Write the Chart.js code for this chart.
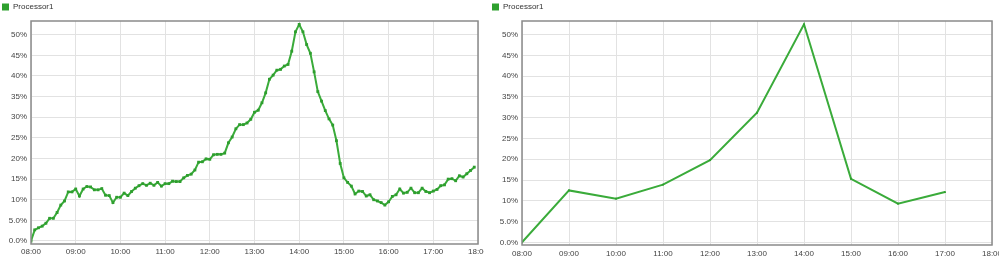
<!DOCTYPE html>
<html><head><meta charset="utf-8">
<script src="https://cdn.jsdelivr.net/npm/chart.js@4.4.1/dist/chart.umd.min.js"></script>
<style>
html,body{margin:0;padding:0;background:#fff;width:999px;height:261px;overflow:hidden;}
#l{position:absolute;left:0;top:0;width:484px;height:261px;}
#r{position:absolute;left:490px;top:0;width:509px;height:261px;}
</style></head><body>
<div id="l"><canvas id="cl"></canvas></div>
<div id="r"><canvas id="cr"></canvas></div>
<script>
const seriesName = 'Processor1';
const xTickLabels = ['08:00','09:00','10:00','11:00','12:00','13:00','14:00','15:00','16:00','17:00','18:00'];
const yTickLabels = ['0.0%','5.0%','10%','15%','20%','25%','30%','35%','40%','45%','50%'];

const detailTimes = [
'08:00','08:05','08:10','08:15','08:20','08:25','08:30','08:35','08:40','08:45','08:50','08:55',
'09:00','09:05','09:10','09:15','09:20','09:25','09:30','09:35','09:40','09:45','09:50','09:55',
'10:00','10:05','10:10','10:15','10:20','10:25','10:30','10:35','10:40','10:45','10:50','10:55',
'11:00','11:05','11:10','11:15','11:20','11:25','11:30','11:35','11:40','11:45','11:50','11:55',
'12:00','12:05','12:10','12:15','12:20','12:25','12:30','12:35','12:40','12:45','12:50','12:55',
'13:00','13:05','13:10','13:15','13:20','13:25','13:30','13:35','13:40','13:45','13:50','13:55',
'14:00','14:05','14:10','14:15','14:20','14:25','14:30','14:35','14:40','14:45','14:50','14:55',
'15:00','15:05','15:10','15:15','15:20','15:25','15:30','15:35','15:40','15:45','15:50','15:55',
'16:00','16:05','16:10','16:15','16:20','16:25','16:30','16:35','16:40','16:45','16:50','16:55',
'17:00','17:05','17:10','17:15','17:20','17:25','17:30','17:35','17:40','17:45','17:50','17:55'];
const detailValues = [
0, 2.7, 3.2, 3.6, 4.3, 5.5, 5.5, 6.9, 8.7, 9.7, 11.9, 11.9,
12.6, 10.9, 12.6, 13.2, 13.1, 12.4, 12.4, 12.7, 11.1, 11.0, 9.3, 10.6,
10.6, 11.6, 11.0, 12.0, 12.8, 13.4, 13.9, 13.5, 14.0, 13.5, 14.2, 13.3,
13.9, 13.9, 14.5, 14.4, 14.4, 15.3, 15.9, 16.2, 17.2, 19.1, 19.2, 19.9,
19.8, 20.9, 21.0, 21.0, 21.3, 23.8, 25.2, 27.2, 28.2, 28.2, 28.6, 29.5,
31.2, 31.7, 33.5, 35.9, 39.2, 40.2, 41.4, 41.6, 42.4, 42.8, 46.0, 50.7,
52.5, 50.7, 47.6, 45.5, 41.0, 36.2, 33.9, 31.6, 29.6, 28.1, 24.3, 18.8,
15.3, 14.2, 13.3, 11.4, 12.1, 12.0, 10.9, 11.2, 10.0, 9.7, 9.3, 8.7,
9.5, 10.8, 11.2, 12.6, 11.6, 11.8, 12.8, 11.7, 11.7, 12.8, 12.0, 11.7,
12.1, 12.5, 13.4, 13.6, 15.0, 15.1, 14.6, 15.8, 15.5, 16.3, 17.1, 17.9];

const hourlyTimes = ['08:00','09:00','10:00','11:00','12:00','13:00','14:00','15:00','16:00','17:00'];
const hourlyValues = [0, 12.5, 10.5, 13.9, 19.8, 31.2, 52.5, 15.3, 9.3, 12.1];

const toMin = t => { const [h, m] = t.split(':').map(Number); return h * 60 + m; };
const pts = (times, vals) => times.map((t, i) => ({x: toMin(t), y: vals[i]}));

const FONT = {family: '"Liberation Sans", Arial, sans-serif', size: 8};
const frame = {
  id: 'frame',
  afterDraw(chart) {
    const {ctx, chartArea: a} = chart;
    ctx.save();
    ctx.strokeStyle = '#8a8a8a';
    ctx.lineWidth = 1.5;
    ctx.strokeRect(a.left, a.top, a.right - a.left, a.bottom - a.top);
    ctx.restore();
  }
};

function make(id, data, opt) {
  return new Chart(document.getElementById(id), {
    type: 'line',
    data: {datasets: [{
      label: seriesName,
      data: data,
      borderColor: '#3aab3a',
      backgroundColor: '#2ea02e',
      borderWidth: 2,
      tension: 0,
      pointStyle: 'rect',
      pointRadius: opt.pr,
      pointBackgroundColor: '#2e9e2e',
      pointBorderWidth: 0,
      fill: false
    }]},
    options: {
      responsive: true,
      maintainAspectRatio: false,
      animation: false,
      devicePixelRatio: 1,
      layout: {padding: {top: 1, right: opt.padR, left: 0, bottom: 0}},
      plugins: {
        tooltip: {enabled: false},
        legend: {
          position: 'top', align: 'start',
          labels: {
            boxWidth: 7, boxHeight: 7, padding: 2, font: FONT, color: '#333',
            generateLabels: (c) => Chart.defaults.plugins.legend.labels.generateLabels(c).map(l => Object.assign(l, {lineWidth: 0}))
          }
        }
      },
      scales: {
        x: {
          type: 'linear', min: 480, max: 1080,
          border: {display: false},
          grid: {color: '#e2e2e2', lineWidth: 1, drawTicks: false},
          ticks: {stepSize: 60, autoSkip: false, maxRotation: 0, padding: opt.xpad, font: FONT, color: '#444',
            callback: v => xTickLabels[Math.round((v - 480) / 60)]},
          afterFit: s => { s.height = opt.xh; s.paddingLeft = 0; s.paddingRight = 0; }
        },
        y: {
          min: opt.ymin, max: opt.ymax,
          border: {display: false},
          grid: {color: '#e2e2e2', lineWidth: 1, drawTicks: false},
          ticks: {stepSize: 5, includeBounds: false, padding: 4, font: FONT, color: '#444',
            callback: v => yTickLabels[Math.round(v / 5)]},
          afterFit: s => { s.width = opt.yw; }
        }
      }
    },
    plugins: [frame]
  });
}

make('cl', pts(detailTimes, detailValues), {pr: 2, padR: 6, xh: 17, xpad: 3, yw: 31, ymin: -0.73, ymax: 53.32});
make('cr', pts(hourlyTimes, hourlyValues), {pr: 1.3, padR: 7, xh: 16, xpad: 3.5, yw: 32, ymin: -0.65, ymax: 53.3});
</script>
</body></html>
